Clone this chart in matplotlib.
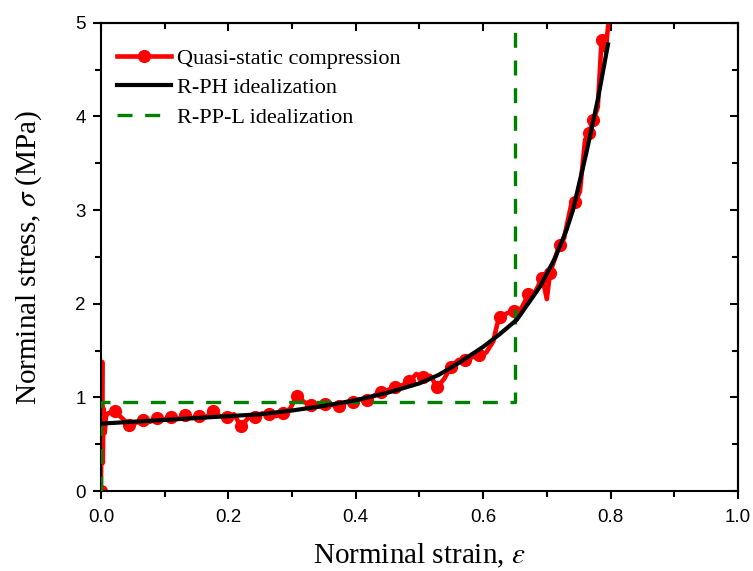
import matplotlib
matplotlib.use("Agg")
import matplotlib.pyplot as plt
from matplotlib.ticker import MultipleLocator

plt.rcParams["mathtext.fontset"] = "stix"

# quasi-static compression test
red_strain = [0.000, 0.001, 0.002, 0.003, 0.004, 0.006, 0.008,
              0.011, 0.022, 0.033, 0.044, 0.055, 0.066, 0.077, 0.088, 0.099, 0.110,
              0.121, 0.132, 0.143, 0.154, 0.165, 0.176, 0.187, 0.198, 0.209, 0.220,
              0.231, 0.242, 0.253, 0.264, 0.275, 0.286, 0.297, 0.308, 0.319, 0.330,
              0.341, 0.352, 0.363, 0.374, 0.385, 0.396, 0.407, 0.418, 0.429, 0.440,
              0.451, 0.462, 0.473, 0.484, 0.495, 0.506, 0.517, 0.528, 0.539, 0.550,
              0.561, 0.572, 0.583, 0.594, 0.605, 0.616, 0.622, 0.627, 0.638, 0.649,
              0.660, 0.671, 0.682, 0.693, 0.700, 0.705, 0.716, 0.721, 0.727, 0.738,
              0.745, 0.752, 0.760, 0.766, 0.773, 0.780, 0.786, 0.792, 0.800]
red_stress = [0.00, 0.70, 1.38, 0.30, 0.88, 0.62, 0.80,
              0.83, 0.85, 0.78, 0.71, 0.73, 0.76, 0.74, 0.78, 0.76, 0.79,
              0.77, 0.81, 0.78, 0.80, 0.79, 0.85, 0.80, 0.79, 0.82, 0.69,
              0.78, 0.79, 0.83, 0.82, 0.80, 0.83, 0.88, 1.02, 0.95, 0.92,
              0.90, 0.93, 0.92, 0.91, 0.95, 0.95, 0.98, 0.97, 1.02, 1.06,
              1.08, 1.11, 1.13, 1.17, 1.25, 1.22, 1.23, 1.11, 1.20, 1.33,
              1.40, 1.40, 1.43, 1.45, 1.48, 1.60, 1.78, 1.86, 1.90, 1.92,
              1.95, 2.10, 2.13, 2.28, 2.05, 2.33, 2.55, 2.63, 2.70, 3.05,
              3.09, 3.20, 3.75, 3.82, 3.96, 4.10, 4.82, 4.70, 5.20]
red_marks = [0] + list(range(8, 61, 2)) + [64, 66, 68, 70, 72, 74, 77, 80, 81, 83]

# R-PH idealization
rph_strain = [0.0, 0.05, 0.10, 0.15, 0.20, 0.25, 0.30, 0.35, 0.40, 0.45, 0.50,
              0.53, 0.56, 0.60, 0.625, 0.653, 0.689, 0.713, 0.731, 0.741, 0.762,
              0.780, 0.796]
rph_stress = [0.72, 0.74, 0.76, 0.78, 0.80, 0.82, 0.86, 0.91, 0.97, 1.05, 1.15,
              1.24, 1.36, 1.54, 1.67, 1.83, 2.18, 2.49, 2.79, 3.00, 3.61,
              4.18, 4.77]

# R-PP-L idealization
rppl_strain = [0.0, 0.0, 0.65, 0.65]
rppl_stress = [0.0, 0.95, 0.95, 5.0]

serif = "Liberation Serif"

fig = plt.figure(figsize=(7.53, 5.71), dpi=100)
ax = fig.add_axes([0.134, 0.140, 0.846, 0.820])

ax.plot(red_strain, red_stress, color="#ff0000", lw=3.3, marker="o", ms=8.5,
        markevery=red_marks, label="Quasi-static compression", zorder=2)
ax.plot(rppl_strain, rppl_stress, color="#008000", lw=2.4, dashes=(4.5, 3.8),
        label="R-PP-L idealization", zorder=3)
ax.plot(rph_strain, rph_stress, color="black", lw=3.0,
        label="R-PH idealization", zorder=4)

ax.set_xlim(0, 1.0)
ax.set_ylim(0, 5)
ax.xaxis.set_major_locator(MultipleLocator(0.2))
ax.xaxis.set_minor_locator(MultipleLocator(0.1))
ax.yaxis.set_major_locator(MultipleLocator(1))
ax.yaxis.set_minor_locator(MultipleLocator(0.5))
ax.set_xticks([0.0, 0.2, 0.4, 0.6, 0.8, 1.0])
ax.set_xticklabels(["0.0", "0.2", "0.4", "0.6", "0.8", "1.0"])

for s in ax.spines.values():
    s.set_linewidth(1.5)
ax.tick_params(which="both", direction="out", width=1.5, top=False, right=False)
ax.tick_params(which="major", length=6, labelsize=13.5)
ax.tick_params(axis="x", which="major", pad=7)
ax.tick_params(axis="y", which="major", pad=5)
ax.tick_params(which="minor", length=4)
for lab in ax.get_xticklabels() + ax.get_yticklabels():
    lab.set_fontfamily("Liberation Sans")

# inward ticks on top and right
axt = ax.secondary_xaxis("top")
axt.xaxis.set_major_locator(MultipleLocator(0.2))
axt.xaxis.set_minor_locator(MultipleLocator(0.1))
axt.tick_params(which="both", direction="in", width=1.5, labeltop=False)
axt.tick_params(which="major", length=6)
axt.tick_params(which="minor", length=4)
axr = ax.secondary_yaxis("right")
axr.yaxis.set_major_locator(MultipleLocator(1))
axr.yaxis.set_minor_locator(MultipleLocator(0.5))
axr.tick_params(which="both", direction="in", width=1.5, labelright=False)
axr.tick_params(which="major", length=6)
axr.tick_params(which="minor", length=4)
for s in list(axt.spines.values()) + list(axr.spines.values()):
    s.set_linewidth(1.5)

ax.set_xlabel(r"Norminal strain, $\it{\varepsilon}$", fontsize=21, family=serif)
ax.set_ylabel(r"Norminal stress, $\it{\sigma}$ (MPa)", fontsize=21, family=serif)
ax.xaxis.set_label_coords(0.5, -0.108)
ax.yaxis.set_label_coords(-0.09, 0.5)

h, l = ax.get_legend_handles_labels()
order = [0, 2, 1]
ax.legend([h[i] for i in order], [l[i] for i in order], loc="upper left",
          bbox_to_anchor=(0.012, 0.965), borderaxespad=0,
          frameon=False, prop={"family": serif, "size": 16}, handlelength=2.4,
          handletextpad=0.3, labelspacing=0.4)

fig.savefig("out.png", dpi=100)
